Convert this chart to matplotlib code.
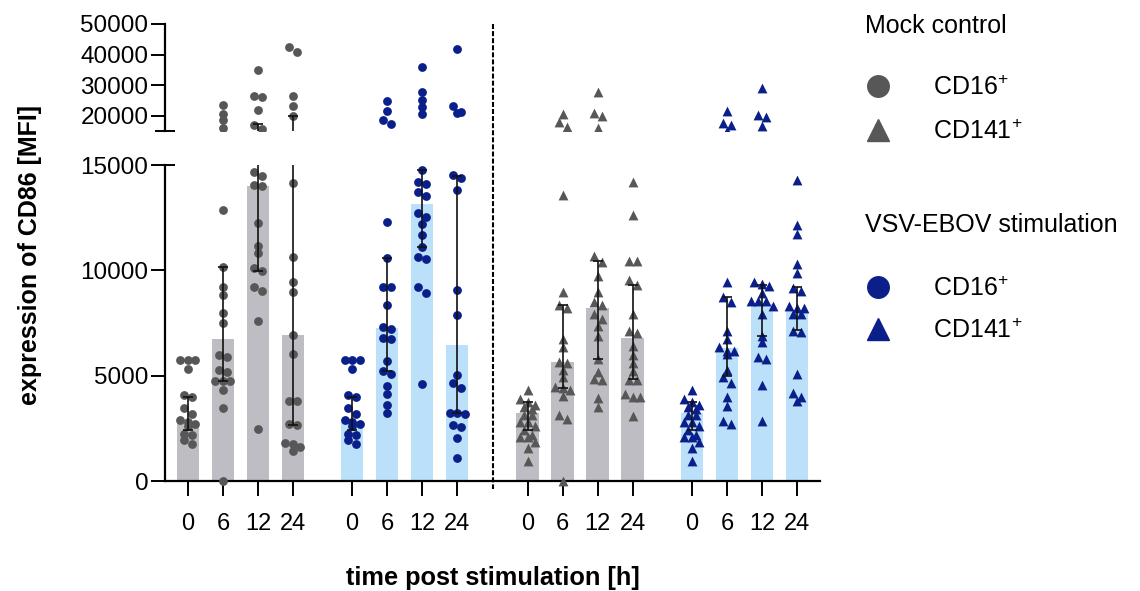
import numpy as np
import matplotlib
matplotlib.use("Agg")
import matplotlib.pyplot as plt
from matplotlib.lines import Line2D
from matplotlib.transforms import blended_transform_factory

plt.rcParams['font.family'] = ['Liberation Sans', 'DejaVu Sans']
plt.rcParams['mathtext.fontset'] = 'custom'
plt.rcParams['mathtext.rm'] = 'Liberation Sans'
plt.rcParams['mathtext.it'] = 'Liberation Sans'

# dados (MFI de CD86)
tempos = ['0', '6', '12', '24']

mock_cd16 = [
    [5750, 5750, 5720, 5310, 4060, 3990, 3480, 3200, 2900, 2800, 2720, 2590, 2240, 2165, 1930, 1740],
    [23400, 20660, 18450, 16140, 12880, 10140, 9200, 8850, 7960, 7490, 5960, 5880, 5280, 5170,
     4770, 4770, 4770, 4330, 3480, 0],
    [34850, 26500, 26000, 22000, 17000, 15600, 14650, 14490, 14060, 14010, 12250, 11170, 10810,
     10110, 9950, 9200, 9040, 7580, 2480],
    [42500, 40700, 26500, 23100, 20000, 14140, 10620, 9430, 8960, 6940, 6040, 3820, 3820, 2720,
     2640, 1800, 1770, 1610, 1420],
]
ebov_cd16 = [
    [5750, 5750, 5720, 5310, 4060, 3990, 3480, 3200, 2900, 2800, 2720, 2590, 2240, 2165, 1930, 1740],
    [24950, 21650, 18680, 17360, 12280, 10590, 9200, 9200, 8360, 7330, 7220, 6780, 6720, 5690,
     5210, 5090, 4490, 4140, 3630, 3220],
    [36070, 27920, 25280, 22870, 20560, 14770, 14170, 14090, 13700, 13540, 12720, 12530, 12200,
     11690, 11090, 10620, 10540, 9230, 8930, 4610],
    [41780, 23070, 21090, 20890, 14520, 14380, 13810, 9070, 7900, 5040, 4660, 4410, 3240, 3240,
     3190, 2640, 2560, 2020, 1110],
]
mock_cd141 = [
    [4330, 3900, 3740, 3630, 3500, 3400, 3110, 3110, 2800, 2800, 2600, 2400, 2200, 2090, 2090,
     1870, 1560, 950],
    [20560, 17920, 16370, 13570, 8960, 8370, 8200, 6750, 6380, 5640, 5610, 5280, 4960, 4460,
     4420, 4330, 4030, 3140, 2940, 0],
    [27920, 20890, 20000, 16140, 10680, 10410, 9750, 8960, 8480, 8370, 7930, 7690, 7380, 6870,
     5800, 5170, 4850, 4800, 3950, 3510],
    [14200, 12620, 10430, 10430, 9560, 9320, 7930, 7140, 7030, 6430, 6000, 5610, 5210, 4800,
     4800, 4140, 3980, 3980, 3080],
]
ebov_cd141 = [
    [4330, 3900, 3740, 3630, 3500, 3400, 3110, 3110, 2800, 2800, 2600, 2400, 2200, 2090, 2090,
     1870, 1560, 950],
    [21550, 17590, 16930, 15150, 9460, 8720, 8480, 7140, 6720, 6380, 6190, 6150, 6040, 5250,
     4930, 4650, 3980, 3560, 2840, 2720],
    [29140, 20330, 19570, 16700, 9460, 9350, 9270, 8910, 8560, 8530, 8530, 8300, 7930, 6900,
     6590, 5880, 5800, 4570, 2830],
    [14280, 12170, 11720, 10300, 9860, 9160, 9040, 8330, 8220, 8220, 7930, 7930, 7140, 7060,
     5060, 4190, 3980, 3790],
]

# mediana (barra) e intervalo interquartil (barra de erro)
mediana = [2800, 6730, 14010, 6940,  2820, 7250, 13150, 6460,
           3220, 5640, 8200, 6780,   3220, 6300, 8400, 8120]
q1 = [2400, 4770, 9990, 2640,   2400, 5210, 11090, 3240,
      2400, 4420, 5800, 4850,   2400, 4980, 6900, 7190]
q3 = [3980, 10140, 17400, 20000,   3980, 10590, 14770, 14460,
      3740, 8370, 10460, 9320,   3740, 8720, 9320, 9200]

cinza_barra = '#BEBDC3'
azul_barra = '#BBE0FA'
cinza_ponto = '#575757'
azul_ponto = '#0B1F8A'

grupos = [(mock_cd16, 'o', cinza_barra, cinza_ponto),
          (ebov_cd16, 'o', azul_barra, azul_ponto),
          (mock_cd141, '^', cinza_barra, cinza_ponto),
          (ebov_cd141, '^', azul_barra, azul_ponto)]
inicio_grupo = [0, 4.69, 9.71, 14.4]
posicoes = np.concatenate([s + np.arange(4) for s in inicio_grupo])

W, H = 1140, 591
fig = plt.figure(figsize=(W / 100, H / 100), dpi=100)
L, R = 165 / W, 820 / W
ax = fig.add_axes([L, 1 - 481 / H, R - L, (481 - 165) / H])
axu = fig.add_axes([L, 1 - 131 / H, R - L, (131 - 24) / H])
corte = 15000
for a in (ax, axu):
    a.set_xlim(-0.657, 18.06)
    for s in ['top', 'right']:
        a.spines[s].set_visible(False)
    a.spines['left'].set_linewidth(1.6)
    a.spines['bottom'].set_linewidth(1.6)
ax.set_ylim(0, corte)
axu.set_ylim(corte, 50000)
axu.spines['bottom'].set_visible(False)
axu.set_xticks([])


def espalhar(a, x0, vals, passo_px=7.5, tol_px=6.5):
    # agrupa em linhas os pontos muito próximos e centraliza cada linha
    vals = sorted(vals, reverse=True)
    if not vals:
        return [], []
    ypx = a.transData.transform(np.column_stack([np.zeros(len(vals)), vals]))[:, 1]
    pxu = a.transData.transform((1, 0))[0] - a.transData.transform((0, 0))[0]
    linhas = [[0]]
    for i in range(1, len(vals)):
        if abs(ypx[linhas[-1][0]] - ypx[i]) < tol_px:
            linhas[-1].append(i)
        else:
            linhas.append([i])
    xs = np.zeros(len(vals))
    for ln in linhas:
        n = len(ln)
        for k, i in enumerate(ln):
            xs[i] = x0 + (k - (n - 1) / 2) * passo_px / pxu
    return xs, vals


def barra_erro(a, x0, lo, hi, caps):
    a.vlines(x0, lo, hi, color='#111111', lw=1.2, zorder=4)
    for c in caps:
        a.plot([x0], [c], marker='_', ms=7.7, mew=1.2, color='#111111', zorder=4)


k = 0
for dados, marcador, cor_barra, cor_ponto in grupos:
    for j in range(4):
        x0 = posicoes[k]
        ax.bar(x0, mediana[k], width=0.65, color=cor_barra, zorder=1)
        tam = 40 if marcador == 'o' else 50
        baixo = [v for v in dados[j] if v <= corte]
        alto = [v for v in dados[j] if v > corte]
        xs, vs = espalhar(ax, x0, baixo)
        ax.scatter(xs, vs, s=tam, marker=marcador, color=cor_ponto, linewidths=0,
                   zorder=3, clip_on=False)
        xs, vs = espalhar(axu, x0, alto)
        axu.scatter(xs, vs, s=tam, marker=marcador, color=cor_ponto, linewidths=0, zorder=3)
        if q3[k] <= corte:
            barra_erro(ax, x0, q1[k], q3[k], [q1[k], q3[k]])
        else:
            barra_erro(ax, x0, q1[k], corte, [q1[k]])
            barra_erro(axu, x0, corte, q3[k], [q3[k]])
        k += 1

ax.set_xticks(posicoes)
ax.set_xticklabels(tempos * 4)
ax.set_yticks([0, 5000, 10000, 15000])
axu.set_yticks([20000, 30000, 40000, 50000])
ax.tick_params(axis='x', length=10.8, width=1.4, pad=12, labelsize=17)
for a in (ax, axu):
    a.tick_params(axis='y', length=10, width=1.4, pad=2, labelsize=17.5)

# marcas do corte do eixo
ax.yaxis.remove_overlapping_locs = False
ax.set_yticks([corte], minor=True)
ax.tick_params(axis='y', which='minor', direction='in', length=7.2, width=1.4)
axu.set_yticks([corte], minor=True)
axu.tick_params(axis='y', which='minor', direction='inout', length=14.4, width=1.4)

# linha tracejada separando CD16 de CD141
trans = blended_transform_factory(ax.transData, fig.transFigure)
fig.add_artist(Line2D([8.71, 8.71], [1 - 24 / H, 1 - 489 / H], transform=trans,
                      color='black', lw=1.5, ls=(0, (2.4, 1.0))))

fig.text(30 / W, 1 - 255 / H, 'expression of CD86 [MFI]', rotation=90, ha='center',
         va='center', fontsize=18, fontweight='bold')
fig.text(493 / W, 1 - 585 / H, 'time post stimulation [h]', ha='center', va='baseline',
         fontsize=18.3, fontweight='bold')

# legenda
legenda = [('Mock control', 33, None, None),
           ('CD16$^{+}$', 95, 'o', cinza_ponto),
           ('CD141$^{+}$', 139, '^', cinza_ponto),
           ('VSV-EBOV stimulation', 232, None, None),
           ('CD16$^{+}$', 296, 'o', azul_ponto),
           ('CD141$^{+}$', 338, '^', azul_ponto)]
for texto, base, marcador, cor in legenda:
    if marcador is None:
        fig.text(865 / W, 1 - base / H, texto, fontsize=18, va='baseline')
    else:
        fig.text(933 / W, 1 - base / H, texto, fontsize=18, va='baseline')
        fig.add_artist(Line2D([878 / W], [1 - (base - 9) / H], transform=fig.transFigure,
                              marker=marcador, color=cor, markersize=15.5, ls='none'))

fig.savefig('out.png', dpi=100)
